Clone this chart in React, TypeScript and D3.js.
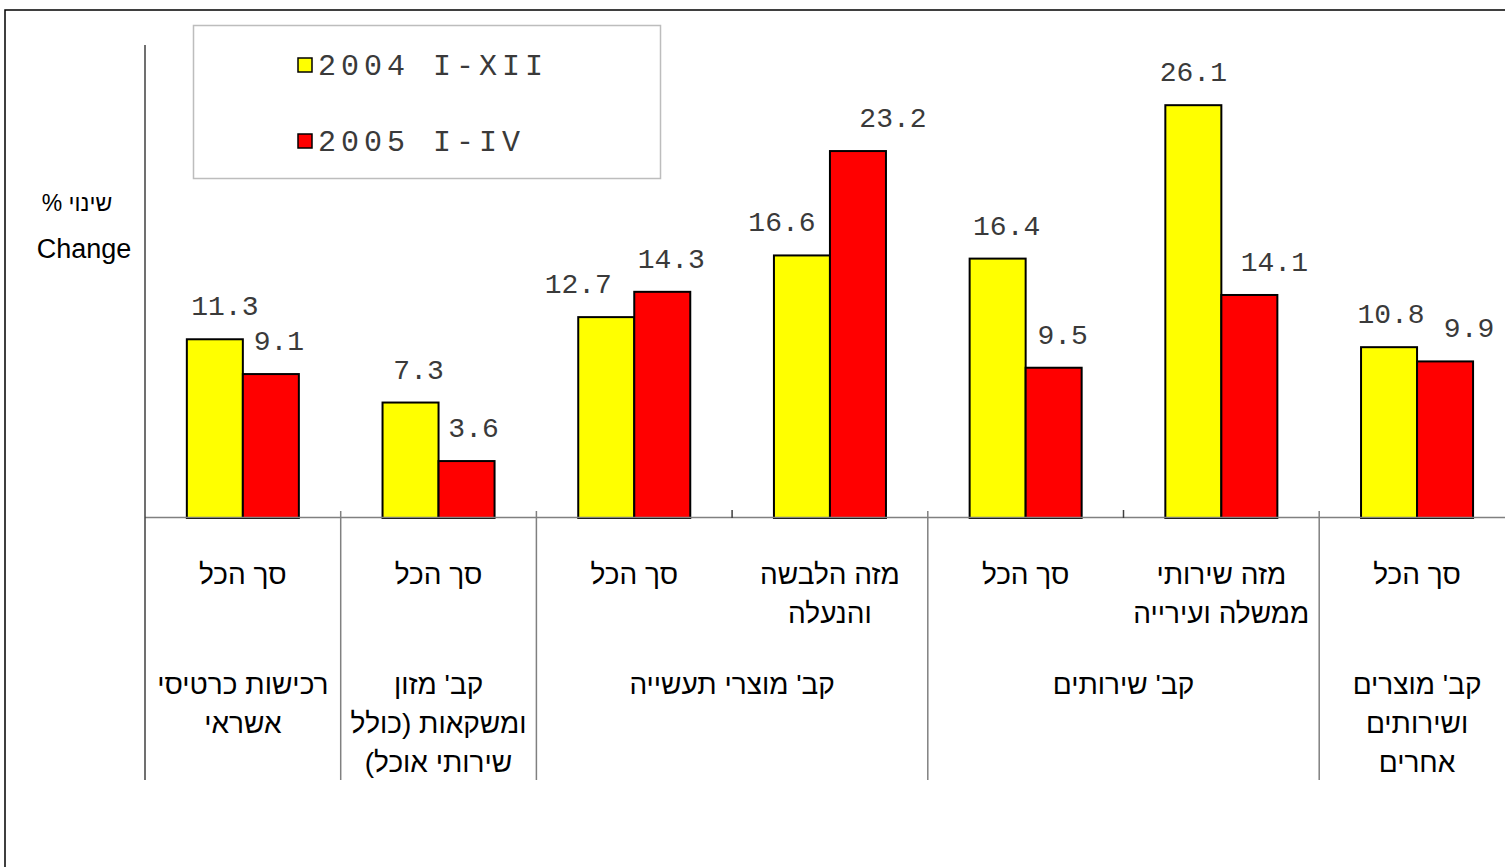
import * as d3 from 'd3'

const categories = ['c1', 'c2', 'c3', 'c4', 'c5', 'c6', 'c7']
const subLabels = [
  ['סך הכל'],
  ['סך הכל'],
  ['סך הכל'],
  ['מזה הלבשה', 'והנעלה'],
  ['סך הכל'],
  ['מזה שירותי', 'ממשלה ועירייה'],
  ['סך הכל'],
]
const groupLabels = [
  ['רכישות כרטיסי', 'אשראי'],
  ["קב'  מזון", 'ומשקאות  (כולל', 'שירותי אוכל)'],
  ["קב'  מוצרי תעשייה"],
  ["קב'  שירותים"],
  ["קב' מוצרים", 'ושירותים', 'אחרים'],
]
const groupSpans = [1, 1, 2, 2, 1]
const seriesNames = ['2004 I-XII', '2005 I-IV']
const values2004 = [11.3, 7.3, 12.7, 16.6, 16.4, 26.1, 10.8]
const values2005 = [9.1, 3.6, 14.3, 23.2, 9.5, 14.1, 9.9]
const colors = ['#FFFF00', '#FF0000']

// hand-placed label nudges in the original
const labelDx = [
  [10, 8, -28, -20, 9, 0, 2],
  [8, 7, 9, 35, 9, 25, 24],
]

const W = 1505
const H = 867
const mono = "'Liberation Mono', 'Courier New', monospace"
const sans = "'Liberation Sans', Arial, 'DejaVu Sans', sans-serif"

const App = () => {
  const left = 145
  const step = 195.7
  const base = 518

  const x0 = d3
    .scaleBand<string>()
    .domain(categories)
    .range([left, left + step * categories.length])
    .padding(0)
  const x1 = d3
    .scaleBand<number>()
    .domain([0, 1])
    .range([0, x0.bandwidth()])
    .paddingInner(0)
    .paddingOuter(0.747)
  const y = d3.scaleLinear().domain([0, 30]).range([base, 43.5])

  const series = [values2004, values2005]

  // boundaries between groups
  const bounds: number[] = [left]
  groupSpans.reduce((acc, s) => {
    bounds.push(left + (acc + s) * step)
    return acc + s
  }, 0)
  const innerTicks: number[] = []
  let acc = 0
  groupSpans.forEach((s) => {
    for (let k = 1; k < s; k++) innerTicks.push(left + (acc + k) * step)
    acc += s
  })

  return (
    <svg
      width={W}
      height={H}
      style={{ position: 'absolute', left: 0, top: 0, background: '#fff' }}
    >
      <rect x={5} y={10} width={W + 20} height={H + 20} fill="#fff" stroke="#000" strokeWidth={1.5} />

      {/* bars */}
      {series.map((vals, si) =>
        vals.map((v, i) => (
          <rect
            key={`b${si}-${i}`}
            x={(x0(categories[i]) ?? 0) + (x1(si) ?? 0)}
            y={y(v)}
            width={x1.bandwidth()}
            height={base - y(v)}
            fill={colors[si]}
            stroke="#000"
            strokeWidth={2}
          />
        ))
      )}

      {/* baseline and axes */}
      <line x1={left} x2={W + 20} y1={base - 0.5} y2={base - 0.5} stroke="#808080" strokeWidth={1.5} />
      <line x1={left} x2={left} y1={45} y2={780} stroke="#404040" strokeWidth={1.5} />
      {bounds.slice(1).map((bx, i) => (
        <line key={`s${i}`} x1={bx} x2={bx} y1={511} y2={780} stroke="#808080" strokeWidth={1.5} />
      ))}
      {innerTicks.map((tx, i) => (
        <line key={`t${i}`} x1={tx} x2={tx} y1={510} y2={518} stroke="#404040" strokeWidth={1.5} />
      ))}

      {/* value labels */}
      {series.map((vals, si) =>
        vals.map((v, i) => (
          <text
            key={`l${si}-${i}`}
            x={(x0(categories[i]) ?? 0) + (x1(si) ?? 0) + x1.bandwidth() / 2 + labelDx[si][i]}
            y={y(v) - 24}
            textAnchor="middle"
            fontFamily={mono}
            fontSize={28}
            fill="#3a3a3a"
          >
            {v.toFixed(1)}
          </text>
        ))
      )}

      {/* sub category labels */}
      {subLabels.map((lines, i) => (
        <text
          key={`sub${i}`}
          direction="rtl"
          textAnchor="middle"
          fontFamily={sans}
          fontSize={28}
          fill="#000"
        >
          {lines.map((ln, j) => (
            <tspan key={j} x={(x0(categories[i]) ?? 0) + step / 2} y={584 + j * 39}>
              {ln}
            </tspan>
          ))}
        </text>
      ))}

      {/* group labels */}
      {groupLabels.map((lines, gi) => {
        const cx = (bounds[gi] + bounds[gi + 1]) / 2
        return (
          <text key={`g${gi}`} direction="rtl" textAnchor="middle" fontFamily={sans} fontSize={28} fill="#000">
            {lines.map((ln, j) => (
              <tspan key={j} x={cx} y={694 + j * 39}>
                {ln}
              </tspan>
            ))}
          </text>
        )
      })}

      {/* axis title */}
      <text x={77} y={211} direction="rtl" textAnchor="middle" fontFamily={sans} fontSize={23} fill="#000">
        שינוי %
      </text>
      <text x={84} y={258} textAnchor="middle" fontFamily={sans} fontSize={27} fill="#000">
        Change
      </text>

      {/* legend */}
      <rect x={193.5} y={25.5} width={467} height={153} fill="#fff" stroke="#bdbdbd" strokeWidth={1.5} />
      {seriesNames.map((name, i) => (
        <g key={`lg${i}`} transform={`translate(298,${58 + i * 76})`}>
          <rect x={0} y={0} width={14} height={14} fill={colors[i]} stroke="#000" strokeWidth={1.5} />
          <text x={20} y={17} fontFamily={mono} fontSize={30} letterSpacing={5} fill="#3a3a3a">
            {name}
          </text>
        </g>
      ))}
    </svg>
  )
}

export default App
